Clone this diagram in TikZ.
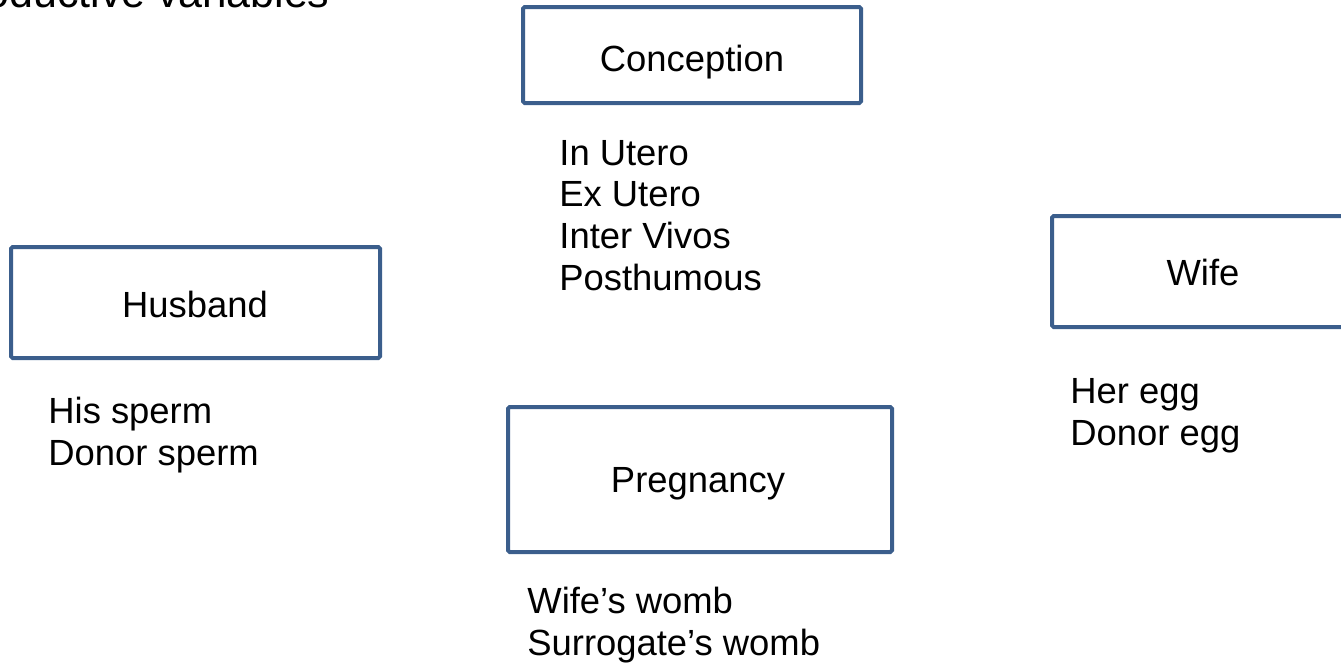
\documentclass[tikz,border=0pt]{standalone}
\usepackage{fontspec}
\setmainfont{Liberation Sans}
\definecolor{boxblue}{RGB}{59,94,140}
\begin{document}
\begin{tikzpicture}[x=0.5pt,y=-0.5pt,
  box/.style={draw=boxblue,line width=2pt,rounded corners=0.8pt,inner sep=0pt,fill=white},
  lbl/.style={inner sep=0pt,font=\fontsize{18.2}{20.8}\selectfont},
  lst/.style={lbl,align=left,anchor=base west}]
\useasboundingbox (0,0) rectangle (1341,665);
\clip (0,0) rectangle (1341,665);

% title line running off the top-left edge
\node[inner sep=0pt,font=\fontsize{21.5}{25}\selectfont,anchor=base east] (title) at (330,7) {Reproductive variables};

% boxes (sizes in pt, half the drawing units)
\node[box,minimum width=169pt,minimum height=48pt] (concbox) at (692,55) {};
\node[box,minimum width=184.5pt,minimum height=55.5pt] (husbox) at (195.5,302.5) {};
\node[box,minimum width=192pt,minimum height=72.5pt] (pregbox) at (700,479.5) {};
\node[box,minimum width=200pt,minimum height=55.5pt] (wifebox) at (1252,271.5) {};

% box labels
\node[lbl,anchor=base] (conc) at (692,71) {Conception};
\node[lbl,anchor=base] (hus) at (195,317) {Husband};
\node[lbl,anchor=base] (preg) at (698,492) {Pregnancy};
\node[lbl,anchor=base] (wife) at (1203,285) {Wife};

% option lists, placed by the baseline of their last line
\node[lst] (conclist) at (559,290) {In Utero\\Ex Utero\\Inter Vivos\\Posthumous};
\node[lst] (huslist) at (48,465) {His sperm\\Donor sperm};
\node[lst] (preglist) at (527,655) {Wife’s womb\\Surrogate’s womb};
\node[lst] (wifelist) at (1070,445) {Her egg\\Donor egg};
\end{tikzpicture}
\end{document}
